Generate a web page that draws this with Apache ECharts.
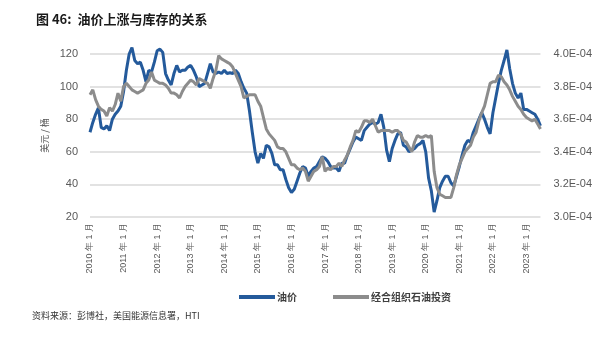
<!DOCTYPE html>
<html>
<head>
<meta charset="utf-8">
<script src="https://cdn.jsdelivr.net/npm/echarts@6/dist/echarts.min.js"></script>
<style>
  html, body { margin: 0; padding: 0; background: #fff; }
  #chart { width: 595px; height: 337px; }
</style>
</head>
<body>
<div id="chart"></div>
<script>
// Monthly observations, January 2010 to June 2023
const startYear = 2010;
const monthCount = 162;
const months = [];
for (let k = 0; k < monthCount; k++) {
  const y = startYear + Math.floor(k / 12);
  const m = (k % 12) + 1;
  months.push(y + '-' + (m < 10 ? '0' + m : m));
}

// Oil price, USD per barrel
const oilPrice = [
  72, 78, 83, 87, 75, 74, 76, 73, 80, 83, 85, 88,
  97, 110, 120, 124, 116, 114, 115, 110, 103, 110, 109, 115,
  122, 123, 121, 108, 104, 101, 108, 113, 109, 110, 110, 112,
  113, 110, 106, 100, 101, 102, 108, 114, 109, 108, 109, 108,
  110, 108, 108.5, 108, 110, 108, 103, 99, 96, 85, 72, 60,
  53, 59, 56, 64, 63, 59, 52, 52, 49, 49, 43, 38,
  35, 37, 42, 47, 51, 50, 45, 48, 50, 51, 54, 57,
  56, 54, 51, 50, 50, 48, 53, 53, 58, 62, 66, 69,
  68, 67, 73, 75, 77, 78, 77, 78, 83, 75, 61, 54,
  62, 67, 71, 72, 64, 63, 60, 61, 62, 64, 65, 67,
  60, 44, 36, 23, 30, 38, 42, 45, 45, 41, 39, 45,
  51, 58, 64, 67, 66, 72, 76, 80, 84, 80, 75, 71,
  84, 93, 102, 110, 116, 122.5, 111, 102, 96, 93, 96, 86,
  86, 85, 84, 83, 80, 76
];

// OECD oil stocks (secondary axis)
const oecdStocks = [
  3.75, 3.78, 3.72, 3.68, 3.66, 3.65, 3.62, 3.67, 3.65, 3.69, 3.76, 3.71,
  3.80, 3.82, 3.80, 3.78, 3.77, 3.76, 3.77, 3.78, 3.82, 3.84, 3.89, 3.84,
  3.83, 3.82, 3.82, 3.81, 3.79, 3.76, 3.76, 3.75, 3.73, 3.77, 3.80, 3.82,
  3.84, 3.83, 3.81, 3.85, 3.84, 3.83, 3.82, 3.79, 3.85, 3.90, 3.99, 3.97,
  3.96, 3.95, 3.94, 3.92, 3.88, 3.84, 3.80, 3.73, 3.74, 3.75, 3.75, 3.75,
  3.71, 3.68, 3.61, 3.54, 3.51, 3.49, 3.47, 3.43, 3.42, 3.42, 3.40, 3.36,
  3.32, 3.32, 3.30, 3.29, 3.30, 3.28, 3.22, 3.25, 3.28, 3.29, 3.31, 3.37,
  3.28, 3.30, 3.29, 3.31, 3.31, 3.33, 3.31, 3.35, 3.38, 3.43, 3.47, 3.53,
  3.52, 3.55, 3.59, 3.59, 3.58, 3.60, 3.56, 3.52, 3.53, 3.53, 3.53, 3.53,
  3.52, 3.53, 3.53, 3.51, 3.47, 3.46, 3.43, 3.40, 3.46, 3.50, 3.49, 3.49,
  3.50, 3.49, 3.50, 3.28, 3.18, 3.14, 3.13, 3.12, 3.12, 3.12, 3.18, 3.26,
  3.32, 3.36, 3.40, 3.42, 3.44, 3.49, 3.52, 3.59, 3.64, 3.68, 3.75, 3.82,
  3.83, 3.83, 3.87, 3.86, 3.83, 3.81, 3.78, 3.74, 3.71, 3.68, 3.66, 3.63,
  3.61, 3.60, 3.59, 3.60, 3.57, 3.54
];

const leftTicks = { min: 20, max: 120, step: 20 };
const rightTicks = { min: 3.0, max: 4.0, step: 0.2 };

const labelColor = '#595959';
const gridColor = '#d9d9d9';
const blue = '#245a9b';
const gray = '#8c8c8c';

const chart = echarts.init(document.getElementById('chart'), null, { renderer: 'canvas' });

chart.setOption({
  backgroundColor: '#ffffff',
  animation: false,
  title: {
    text: '图 46:  油价上涨与库存的关系',
    left: 31,
    top: 8,
    textStyle: {
      fontFamily: 'Noto Sans CJK SC',
      fontSize: 13,
      fontWeight: 'bold',
      color: '#1a1a1a'
    }
  },
  graphic: [{
    type: 'text',
    left: 32,
    top: 311,
    style: {
      text: '资料来源：彭博社，美国能源信息署，HTI',
      fontFamily: 'Noto Sans CJK SC',
      fontSize: 9,
      fill: '#333333'
    }
  }],
  legend: {
    left: 234,
    top: 287,
    itemWidth: 36,
    itemHeight: 4,
    itemGap: 36,
    icon: 'rect',
    textStyle: {
      fontFamily: 'Noto Sans CJK SC',
      fontSize: 10,
      fontWeight: 'bold',
      color: '#404040',
      padding: [0, 0, 0, -3]
    },
    data: ['油价', '经合组织石油投资']
  },
  grid: {
    left: 90,
    right: 48,
    top: 54,
    bottom: 120,
    containLabel: false
  },
  xAxis: {
    type: 'category',
    data: months,
    boundaryGap: false,
    axisLine: { show: false },
    axisTick: { show: false },
    splitLine: { show: false },
    axisLabel: {
      interval: function (idx) { return idx % 12 === 0; },
      rotate: 90,
      margin: 6,
      padding: [5, 0, 0, 0],
      fontFamily: 'Liberation Sans',
      fontSize: 9,
      color: labelColor,
      formatter: function (v) {
        const parts = v.split('-');
        return parts[0] + ' 年 ' + parseInt(parts[1], 10) + ' 月';
      }
    }
  },
  yAxis: [{
    type: 'value',
    min: leftTicks.min,
    max: leftTicks.max,
    interval: leftTicks.step,
    name: '美元 / 桶',
    nameLocation: 'middle',
    nameRotate: 90,
    nameGap: 41,
    nameTextStyle: {
      fontFamily: 'Noto Sans CJK SC',
      fontSize: 9,
      color: labelColor
    },
    axisLine: { show: false },
    axisTick: { show: false },
    axisLabel: {
      margin: 12,
      fontFamily: 'Liberation Sans',
      fontSize: 11,
      color: labelColor
    },
    splitLine: { lineStyle: { color: gridColor, width: 1.5 } }
  }, {
    type: 'value',
    min: rightTicks.min,
    max: rightTicks.max,
    interval: rightTicks.step,
    axisLine: { show: false },
    axisTick: { show: false },
    splitLine: { show: false },
    axisLabel: {
      margin: 13,
      fontFamily: 'Liberation Sans',
      fontSize: 11,
      color: labelColor,
      formatter: function (v) { return v.toFixed(1) + 'E-04'; }
    }
  }],
  series: [{
    name: '油价',
    type: 'line',
    yAxisIndex: 0,
    data: oilPrice,
    clip: false,
    showSymbol: false,
    symbol: 'none',
    lineStyle: { color: blue, width: 3 },
    itemStyle: { color: blue }
  }, {
    name: '经合组织石油投资',
    type: 'line',
    yAxisIndex: 1,
    data: oecdStocks,
    clip: false,
    showSymbol: false,
    symbol: 'none',
    lineStyle: { color: gray, width: 3 },
    itemStyle: { color: gray }
  }]
});
</script>
</body>
</html>
